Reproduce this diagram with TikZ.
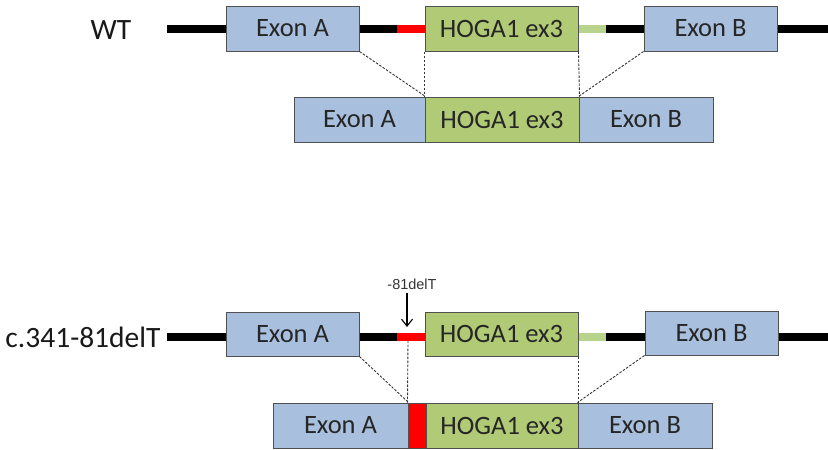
\documentclass[tikz,border=0pt]{standalone}
\usepackage{fontspec}
\setmainfont{Carlito}
\newfontfamily\notefont{Liberation Sans}
\usetikzlibrary{arrows.meta,calc,positioning}
\definecolor{exonblue}{RGB}{168,192,222}
\definecolor{hogagreen}{RGB}{176,202,118}
\definecolor{introngreen}{RGB}{184,212,140}
\definecolor{boxedge}{RGB}{80,80,80}
\tikzset{
  exon/.style={draw=boxedge, line width=1pt, minimum height=45, inner sep=0pt,
    text=black!85, font=\fontsize{26.5}{31}\selectfont},
  exonA/.style={exon, fill=exonblue},      % flanking exons
  hoga/.style={exon, fill=hogagreen},      % HOGA1 exon 3
  retained/.style={exon, fill=red},        % retained intronic piece
  intron/.style={line width=8pt},
  splice/.style={dash pattern=on 2.5pt off 1.5pt, line width=0.9pt, draw=black!80},
  rowlabel/.style={font=\fontsize{29.5}{34}\selectfont, text=black!90},
  mutArrow/.style={-{Straight Barb[length=7pt,width=11pt]}, line width=1.1pt}
}

\begin{document}
\begin{tikzpicture}[x=1pt, y=-1pt]
  \useasboundingbox (0,0) rectangle (828,450);

  % ---- WT ----
  \node[rowlabel] (wt) at (111,30) {WT};
  \node[exonA, minimum width=133] (wA) at (292.5,28.5) {Exon A};
  \node[hoga,  minimum width=153] (wH) at (501.5,28.5) {HOGA1 ex3};
  \node[exonA, minimum width=133] (wB) at (710.5,28.5) {Exon B};
  \coordinate (wL) at (167,28.5);
  \coordinate (wR) at (828,28.5);
  \coordinate (wRed) at (397,28.5);
  \coordinate (wGreen) at (606,28.5);
  \draw[intron] (wL) -- (wA.west);
  \draw[intron] (wA.east) -- (wRed);
  \draw[intron, red] (wRed) -- (wH.west);
  \draw[intron, introngreen] (wH.east) -- (wGreen);
  \draw[intron] (wGreen) -- (wB.west);
  \draw[intron] (wB.east) -- (wR);
  % spliced WT transcript
  \node[exonA, minimum width=131] (tA) at (359.5,119.5) {Exon A};
  \node[hoga,  minimum width=154] (tH) at (502,119.5) {HOGA1 ex3};
  \node[exonA, minimum width=134] (tB) at (646,119.5) {Exon B};
  \draw[splice] (wA.south east) -- (tA.north east);
  \draw[splice] (wH.south west) -- (tH.north west);
  \draw[splice] (wH.south east) -- (tH.north east);
  \draw[splice] (wB.south west) -- (tB.north west);

  % ---- c.341-81delT ----
  \node[rowlabel] (mut) at (83,337) {c.341-81delT};
  \node[exonA, minimum width=133, minimum height=44] (mA) at (292.5,334) {Exon A};
  \node[hoga,  minimum width=153, minimum height=44] (mH) at (501.5,334) {HOGA1 ex3};
  \node[exonA, minimum width=133, minimum height=44] (mB) at (711.5,333) {Exon B};
  \coordinate (mL) at (167,336.5);
  \coordinate (mR) at (828,336.5);
  \coordinate (mRed) at (397,336.5);
  \coordinate (mGreen) at (606,336.5);
  \draw[intron] (mL) -- (mA.west |- mL);
  \draw[intron] (mA.east |- mL) -- (mRed);
  \draw[intron, red] (mRed) -- (mH.west |- mL);
  \draw[intron, introngreen] (mH.east |- mL) -- (mGreen);
  \draw[intron] (mGreen) -- (mB.west |- mL);
  \draw[intron] (mB.east |- mL) -- (mR);
  % deletion site
  \coordinate (del) at (407,332);
  \node[font=\notefont\fontsize{14.5}{17}\selectfont, text=black!80] (delT) at (412,284) {-81delT};
  \draw[mutArrow] (delT.south -| del) -- ($(del)+(0,-5)$);
  % mis-spliced transcript
  \node[exonA, minimum width=135] (sA) at (340.5,425.5) {Exon A};
  \node[retained, minimum width=18] (sR) at (417,425.5) {};
  \node[hoga,  minimum width=152] (sH) at (502,425.5) {HOGA1 ex3};
  \node[exonA, minimum width=134] (sB) at (645,425.5) {Exon B};
  \coordinate (mSplit) at (408,340.5);
  \draw[splice] (mA.south east) -- (sA.north east);
  \draw[splice] (mSplit) -- (sR.north west);
  \draw[splice] (mH.south east) -- (sH.north east);
  \draw[splice] (mB.south west) -- (sB.north west);
\end{tikzpicture}
\end{document}
